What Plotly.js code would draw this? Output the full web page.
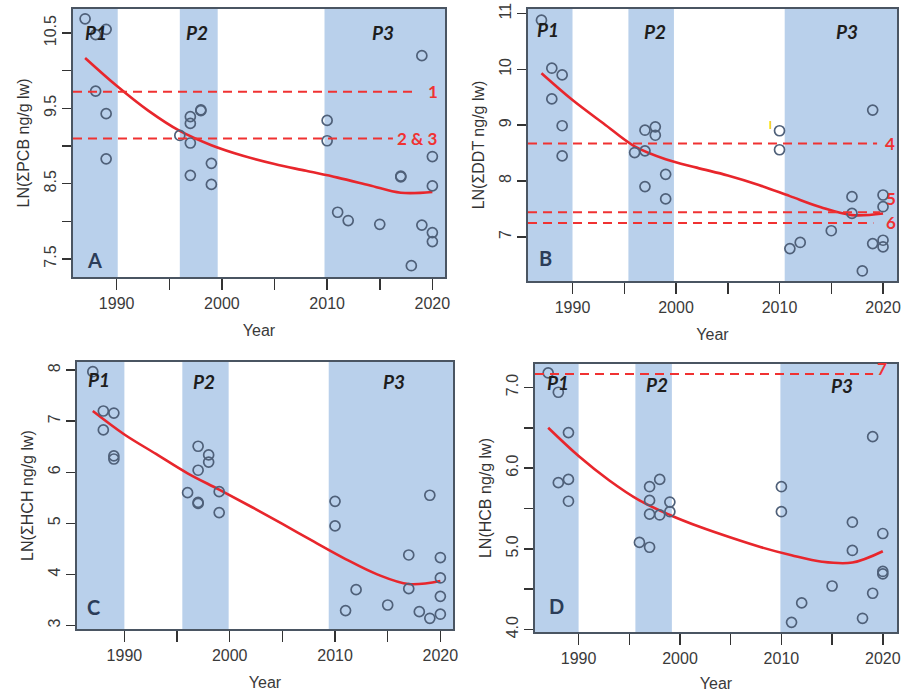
<!DOCTYPE html>
<html>
<head>
<meta charset="utf-8">
<script src="https://cdn.plot.ly/plotly-3.0.1.min.js"></script>
<style>html,body{margin:0;padding:0;background:#fff;}#chart{width:909px;height:692px;}</style>
</head>
<body>
<div id="chart"></div>
<script>
// ---------- DATA ----------
const yearTicks = [1990, 1995, 2000, 2005, 2010, 2015, 2020];
const yearTickText = ['1990', '', '2000', '', '2010', '', '2020'];

// Panel A: ΣPCB
const yearsA = [1987, 1988, 1989, 1988, 1989, 1989, 1996, 1997, 1997, 1997, 1998, 1998, 1997, 1999, 1999, 2010, 2010, 2011, 2012, 2015, 2017, 2017, 2019, 2019, 2018, 2020, 2020, 2020, 2020];
const valsA  = [10.69, 10.48, 10.55, 9.73, 9.43, 8.83, 9.14, 9.39, 9.30, 9.04, 9.47, 9.48, 8.61, 8.77, 8.49, 9.34, 9.07, 8.12, 8.01, 7.96, 8.59, 8.60, 10.20, 7.95, 7.41, 8.86, 8.47, 7.85, 7.73];
const fitYearsA = [1987, 1990, 1993, 1996, 1999, 2002, 2005, 2008, 2011, 2014, 2017, 2020];
const fitValsA  = [10.17, 9.80, 9.47, 9.20, 9.01, 8.87, 8.76, 8.67, 8.58, 8.48, 8.38, 8.39];
const refValsA = [9.72, 9.10];
const refLabelsA = ['1', '2 & 3'];
const yTicksA = [7.5, 8, 8.5, 9, 9.5, 10, 10.5];
const yTickTextA = ['7.5', '', '8.5', '', '9.5', '', '10.5'];
const periodsA = [[1985, 1990.1], [1996.0, 1999.6], [2009.75, 2025]];

// Panel B: ΣDDT
const yearsB = [1987, 1988, 1989, 1988, 1989, 1989, 1996, 1997, 1997, 1997, 1998, 1998, 1999, 1999, 2010, 2010, 2011, 2012, 2015, 2017, 2017, 2019, 2019, 2018, 2020, 2020, 2020, 2020];
const valsB  = [10.88, 10.02, 9.90, 9.47, 8.99, 8.45, 8.51, 8.91, 8.54, 7.90, 8.97, 8.82, 8.12, 7.68, 8.90, 8.56, 6.79, 6.90, 7.11, 7.72, 7.42, 9.27, 6.88, 6.39, 7.75, 7.54, 6.94, 6.82];
const fitYearsB = [1987, 1990, 1993, 1996, 1999, 2002, 2005, 2008, 2011, 2014, 2017, 2020];
const fitValsB  = [9.93, 9.45, 9.03, 8.62, 8.39, 8.24, 8.10, 7.93, 7.73, 7.53, 7.39, 7.42];
const refValsB = [8.67, 7.44, 7.25];
const refLabelsB = ['4', '5', '6'];
const yTicksB = [7, 8, 9, 10, 11];
const yTickTextB = ['7', '8', '9', '10', '11'];
const periodsB = [[1985, 1990.0], [1995.4, 1999.8], [2010.5, 2025]];
const noteB = {year: 2009.1, value: 8.99, text: 'I'};

// Panel C: ΣHCH
const yearsC = [1987, 1988, 1989, 1988, 1989, 1989, 1996, 1997, 1997, 1997, 1997, 1998, 1998, 1999, 1999, 2010, 2010, 2011, 2012, 2015, 2017, 2017, 2019, 2018, 2019, 2020, 2020, 2020, 2020];
const valsC  = [7.97, 7.20, 7.16, 6.83, 6.32, 6.26, 5.60, 6.51, 6.04, 5.41, 5.39, 6.34, 6.20, 5.62, 5.21, 5.43, 4.95, 3.29, 3.70, 3.40, 4.38, 3.72, 5.55, 3.27, 3.14, 4.33, 3.93, 3.57, 3.22];
const fitYearsC = [1987, 1990, 1993, 1996, 1999, 2002, 2005, 2008, 2011, 2014, 2017, 2020];
const fitValsC  = [7.20, 6.74, 6.36, 5.98, 5.66, 5.33, 4.99, 4.64, 4.30, 4.00, 3.81, 3.87];
const yTicksC = [3, 4, 5, 6, 7, 8];
const yTickTextC = ['3', '4', '5', '6', '7', '8'];
const periodsC = [[1985, 1990.0], [1995.5, 1999.9], [2009.4, 2025]];

// Panel D: HCB
const yearsD = [1987, 1988, 1989, 1988, 1989, 1989, 1996, 1997, 1997, 1997, 1997, 1998, 1998, 1999, 1999, 2010, 2010, 2011, 2012, 2015, 2017, 2017, 2019, 2019, 2018, 2020, 2020, 2020];
const valsD  = [7.18, 6.94, 6.44, 5.82, 5.86, 5.59, 5.08, 5.77, 5.60, 5.43, 5.02, 5.86, 5.42, 5.58, 5.46, 5.77, 5.46, 4.09, 4.33, 4.54, 5.33, 4.98, 6.39, 4.45, 4.14, 5.19, 4.72, 4.69];
const fitYearsD = [1987, 1990, 1993, 1996, 1999, 2002, 2005, 2008, 2011, 2014, 2017, 2020];
const fitValsD  = [6.50, 6.15, 5.85, 5.60, 5.42, 5.27, 5.14, 5.02, 4.92, 4.84, 4.83, 4.97];
const refValsD = [7.165];
const refLabelsD = ['7'];
const yTicksD = [4, 4.5, 5, 5.5, 6, 6.5, 7];
const yTickTextD = ['4.0', '', '5.0', '', '6.0', '', '7.0'];
const periodsD = [[1985, 1990.0], [1995.6, 1999.2], [2009.9, 2025]];

const periodNames = ['P1', 'P2', 'P3'];

// ---------- LAYOUT CONFIG (positions / styles) ----------
const W = 909, H = 692;
const dom = (l, r, t, b) => ({x: [l / W, r / W], y: [1 - b / H, 1 - t / H]});
const panels = [
  {id: '', letter: 'A', title: 'LN(ΣPCB ng/g lw)', box: dom(73, 445, 9, 277), xr: [1985.85, 2021.2], yr: [7.26, 10.82],
   years: yearsA, vals: valsA, fy: fitYearsA, fv: fitValsA, refs: refValsA, refLabels: refLabelsA, refEnds: [0.927, 0.86], refLabelX: [0.968, 0.924],
   yt: yTicksA, ytt: yTickTextA, periods: periodsA, pPos: [[1988.0, 0.914], [1997.6, 0.914], [2015.3, 0.914]], letterPos: [1987.9, 0.065]},
  {id: '2', letter: 'B', title: 'LN(ΣDDT ng/g lw)', box: dom(528, 897, 9, 281), xr: [1985.7, 2021.35], yr: [6.21, 11.08],
   years: yearsB, vals: valsB, fy: fitYearsB, fv: fitValsB, refs: refValsB, refLabels: refLabelsB, refEnds: [0.946, 0.954, 0.936], refLabelX: [0.98, 0.983, 0.983],
   refLabelDy: [0, 0.05, 0], yt: yTicksB, ytt: yTickTextB, periods: periodsB, pPos: [[1987.6, 0.923], [1998.0, 0.918], [2016.5, 0.918]], letterPos: [1987.4, 0.085]},
  {id: '3', letter: 'C', title: 'LN(ΣHCH ng/g lw)', box: dom(77, 453, 362, 629), xr: [1985.5, 2021.2], yr: [2.93, 8.16],
   years: yearsC, vals: valsC, fy: fitYearsC, fv: fitValsC, refs: [], refLabels: [], refEnds: [], refLabelX: [],
   yt: yTicksC, ytt: yTickTextC, periods: periodsC, pPos: [[1987.6, 0.933], [1997.6, 0.927], [2015.6, 0.927]], letterPos: [1987.1, 0.083]},
  {id: '4', letter: 'D', title: 'LN(HCB ng/g lw)', box: dom(535, 897, 364, 632), xr: [1985.7, 2021.4], yr: [3.97, 7.29],
   years: yearsD, vals: valsD, fy: fitYearsD, fv: fitValsD, refs: refValsD, refLabels: refLabelsD, refEnds: [0.934], refLabelX: [0.958],
   refLabelDy: [0.02], yt: yTicksD, ytt: yTickTextD, periods: periodsD, pPos: [[1988.0, 0.93], [1997.7, 0.925], [2016.0, 0.918]], letterPos: [1987.8, 0.097]}
];

const FONT = 'Liberation Sans, Arial, sans-serif';
const PFONT = 'Lato, Liberation Sans, sans-serif';
const shadeColor = 'rgb(185,208,235)';
const pointColor = '#4f6079';
const fitColor = 'rgb(232,38,44)';
const refColor = 'rgb(240,50,50)';
const axisColor = '#4a5562';

const data = [];
const shapes = [];
const annotations = [];
const layout = {
  width: W, height: H, margin: {l: 0, r: 0, t: 0, b: 0},
  paper_bgcolor: '#fff', plot_bgcolor: '#fff', showlegend: false,
  font: {family: FONT, size: 16, color: '#333'}
};

panels.forEach(p => {
  const xa = 'x' + p.id, ya = 'y' + p.id;
  const xkey = 'xaxis' + p.id, ykey = 'yaxis' + p.id;
  layout[xkey] = {
    domain: p.box.x, range: p.xr, anchor: ya, showgrid: false, zeroline: false,
    showline: true, mirror: true, linecolor: axisColor, linewidth: 1.6,
    ticks: 'outside', ticklen: 11, tickwidth: 1.5, tickcolor: '#333',
    tickvals: yearTicks, ticktext: yearTickText,
    tickfont: {family: FONT, size: 16, color: '#3a3a3a'},
    title: {text: 'Year', font: {family: FONT, size: 16, color: '#3a3a3a'}, standoff: 14}
  };
  layout[ykey] = {
    domain: p.box.y, range: p.yr, anchor: xa, showgrid: false, zeroline: false,
    showline: true, mirror: true, linecolor: axisColor, linewidth: 1.6,
    ticks: 'outside', ticklen: 9, tickwidth: 1.5, tickcolor: '#333',
    tickvals: p.yt, ticktext: p.ytt, tickangle: -90,
    tickfont: {family: FONT, size: 16, color: '#3a3a3a'},
    title: {text: p.title, font: {family: FONT, size: 16, color: '#333'}, standoff: 8}
  };
  p.periods.forEach(per => {
    shapes.push({type: 'rect', xref: xa, yref: ya + ' domain', x0: Math.max(per[0], p.xr[0]), x1: Math.min(per[1], p.xr[1]), y0: 0, y1: 1,
      fillcolor: shadeColor, line: {width: 0}, layer: 'below'});
  });
  p.refs.forEach((v, i) => {
    shapes.push({type: 'line', xref: xa + ' domain', yref: ya, x0: 0, x1: p.refEnds[i], y0: v, y1: v,
      line: {color: refColor, width: 2, dash: '9px,6px'}, layer: 'above'});
    const dy = (p.refLabelDy && p.refLabelDy[i]) ? p.refLabelDy[i] * (p.yr[1] - p.yr[0]) : 0;
    annotations.push({xref: xa + ' domain', yref: ya, x: p.refLabelX[i], y: v + dy, text: '<b>' + p.refLabels[i].replace('&', '&amp;') + '</b>',
      showarrow: false, xanchor: 'center', yanchor: 'middle', font: {family: PFONT, size: 17, color: refColor}});
  });
  data.push({type: 'scatter', mode: 'lines', x: p.fy, y: p.fv, xaxis: xa, yaxis: ya,
    line: {color: fitColor, width: 2.6, shape: 'spline', smoothing: 1}, hoverinfo: 'skip'});
  data.push({type: 'scatter', mode: 'markers', x: p.years, y: p.vals, xaxis: xa, yaxis: ya,
    marker: {symbol: 'circle-open', size: 10, color: pointColor, line: {width: 1.7, color: pointColor}}});
  p.periods.forEach((per, i) => {
    annotations.push({xref: xa, yref: ya + ' domain', x: p.pPos[i][0], y: p.pPos[i][1], text: '<b><i>' + periodNames[i] + '</i></b>',
      showarrow: false, xanchor: 'center', yanchor: 'middle', font: {family: PFONT, size: 19, color: '#1e1e1e'}});
  });
  annotations.push({xref: xa, yref: ya + ' domain', x: p.letterPos[0], y: p.letterPos[1], text: '<b>' + p.letter + '</b>',
    showarrow: false, xanchor: 'center', yanchor: 'middle', font: {family: PFONT, size: 20, color: '#2b3c58'}});
});

annotations.push({xref: 'x2', yref: 'y2', x: noteB.year, y: noteB.value, text: '<b>' + noteB.text + '</b>', showarrow: false,
  font: {family: FONT, size: 10, color: '#f2cf00'}});

layout.shapes = shapes;
layout.annotations = annotations;

Plotly.newPlot('chart', data, layout, {displayModeBar: false, staticPlot: true});
</script>
</body>
</html>
